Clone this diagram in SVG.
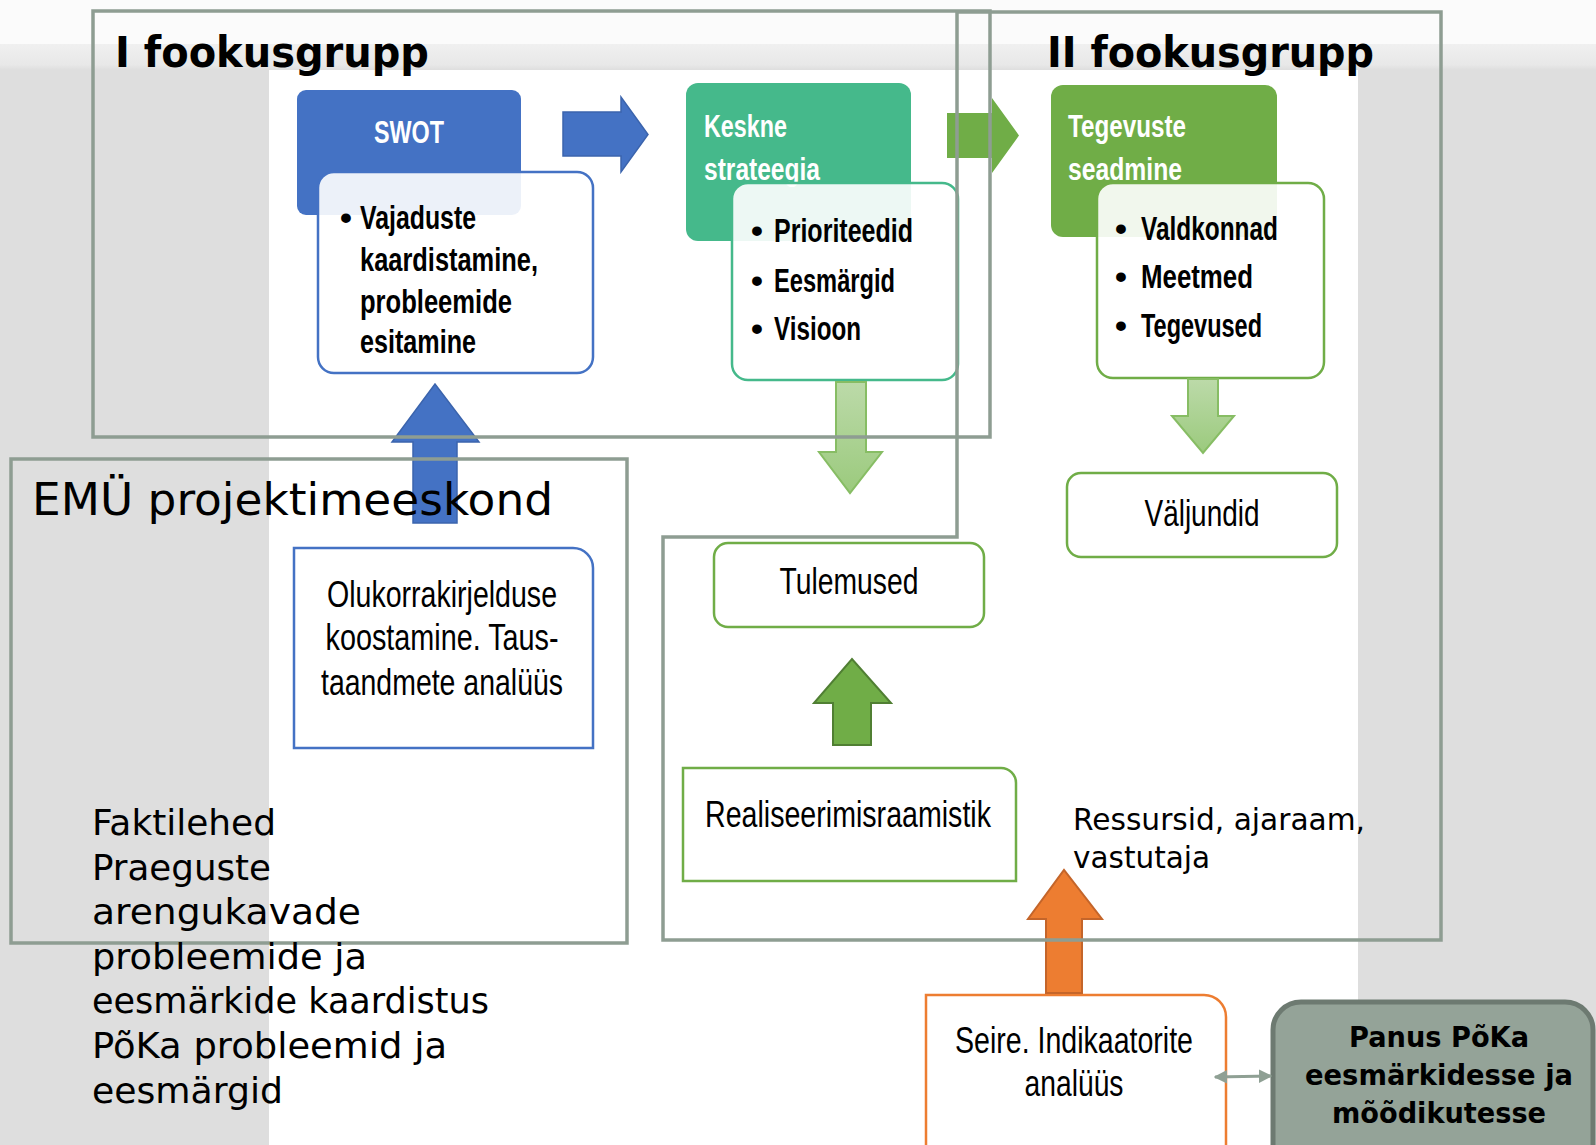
<svg xmlns="http://www.w3.org/2000/svg" width="1596" height="1145" viewBox="0 0 1596 1145">
<defs>
<linearGradient id="band" x1="0" y1="0" x2="0" y2="1">
<stop offset="0" stop-color="#f0f0f0"/><stop offset="0.8" stop-color="#e8e8e8"/><stop offset="1" stop-color="#dedede"/>
</linearGradient>
<linearGradient id="lg" x1="0" y1="0" x2="0" y2="1">
<stop offset="0" stop-color="#bcdaa9"/><stop offset="1" stop-color="#9bca7d"/>
</linearGradient>
<marker id="dh" viewBox="0 0 10 10" refX="9" refY="5" markerWidth="4.5" markerHeight="4.5" orient="auto-start-reverse">
<path d="M0,0 L10,5 L0,10 z" fill="#8fa094"/>
</marker>
<style>
.frame{fill:none;stroke:#8e9d92;stroke-width:3.5}
.cal{font-family:"Liberation Sans",Arial,sans-serif}
.got{font-family:"DejaVu Sans",sans-serif}
.hdr{fill:#ffffff;font-size:32px;font-weight:bold}
.bul{fill:#000000;font-size:34px;font-weight:bold}
.box{fill:#ffffff;stroke-width:2.5}
.ov{fill:#ffffff;fill-opacity:0.9;stroke-width:2.5}
.ar{font-size:36px;fill:#000000}
.lst{font-size:36px;fill:#000000}
.lg{fill:url(#lg);stroke:#87bd64;stroke-width:2}
</style>
</defs>

<g id="background">
<rect x="0" y="0" width="1596" height="1145" fill="#dedede"/>
<rect x="0" y="0" width="1596" height="44" fill="#fbfbfb"/>
<rect x="0" y="44" width="1596" height="26" fill="url(#band)"/>
<rect x="269" y="70" width="1089" height="1075" fill="#ffffff"/>
</g>

<g id="swot">
<rect x="297" y="90" width="224" height="125" rx="9" fill="#4472c4"/>
<text class="cal hdr" x="409" y="143" text-anchor="middle" textLength="70" lengthAdjust="spacingAndGlyphs" font-size="30">SWOT</text>
</g>
<g id="vajaduste">
<rect class="ov" x="318" y="172" width="275" height="201" rx="16" stroke="#4472c4"/>
<text class="cal bul" x="340" y="229" font-size="32">•</text>
<text class="cal bul" font-size="32" x="360" y="229" textLength="116" lengthAdjust="spacingAndGlyphs">Vajaduste</text>
<text class="cal bul" font-size="32" x="360" y="271" textLength="178" lengthAdjust="spacingAndGlyphs">kaardistamine,</text>
<text class="cal bul" font-size="32" x="360" y="313" textLength="152" lengthAdjust="spacingAndGlyphs">probleemide</text>
<text class="cal bul" font-size="32" x="360" y="353" textLength="116" lengthAdjust="spacingAndGlyphs">esitamine</text>
</g>

<g id="keskne">
<rect x="686" y="83" width="225" height="158" rx="12" fill="#45b98b"/>
<text class="cal hdr" x="704" y="137" textLength="83" lengthAdjust="spacingAndGlyphs">Keskne</text>
<text class="cal hdr" x="704" y="180" textLength="116" lengthAdjust="spacingAndGlyphs">strateegia</text>
</g>
<g id="prioriteedid">
<rect class="ov" x="732" y="183" width="226" height="197" rx="16" stroke="#45b98b"/>
<text class="cal bul" x="751" y="242">•</text>
<text class="cal bul" x="774" y="242" textLength="139" lengthAdjust="spacingAndGlyphs">Prioriteedid</text>
<text class="cal bul" x="751" y="292">•</text>
<text class="cal bul" x="774" y="292" textLength="121" lengthAdjust="spacingAndGlyphs">Eesmärgid</text>
<text class="cal bul" x="751" y="340">•</text>
<text class="cal bul" x="774" y="340" textLength="87" lengthAdjust="spacingAndGlyphs">Visioon</text>
</g>

<g id="tegevuste">
<rect x="1051" y="85" width="226" height="152" rx="12" fill="#70ad47"/>
<text class="cal hdr" x="1068" y="137" textLength="118" lengthAdjust="spacingAndGlyphs">Tegevuste</text>
<text class="cal hdr" x="1068" y="180" textLength="114" lengthAdjust="spacingAndGlyphs">seadmine</text>
</g>
<g id="valdkonnad">
<rect class="ov" x="1097" y="183" width="227" height="195" rx="16" stroke="#70ad47"/>
<text class="cal bul" x="1115" y="240">•</text>
<text class="cal bul" x="1141" y="240" textLength="137" lengthAdjust="spacingAndGlyphs">Valdkonnad</text>
<text class="cal bul" x="1115" y="288">•</text>
<text class="cal bul" x="1141" y="288" textLength="112" lengthAdjust="spacingAndGlyphs">Meetmed</text>
<text class="cal bul" x="1115" y="337">•</text>
<text class="cal bul" x="1141" y="337" textLength="121" lengthAdjust="spacingAndGlyphs">Tegevused</text>
</g>

<g id="valjundid">
<rect class="box" x="1067" y="473" width="270" height="84" rx="14" stroke="#70ad47"/>
<text class="cal ar" x="1202" y="526" text-anchor="middle" textLength="115" lengthAdjust="spacingAndGlyphs">Väljundid</text>
</g>

<g id="tulemused">
<rect class="box" x="714" y="543" width="270" height="84" rx="14" stroke="#70ad47"/>
<text class="cal ar" x="849" y="594" text-anchor="middle" textLength="139" lengthAdjust="spacingAndGlyphs">Tulemused</text>
</g>

<g id="realiseerimisraamistik">
<path class="box" d="M683,768 H1001 A15,15 0 0 1 1016,783 V881 H683 Z" stroke="#70ad47"/>
<text class="cal ar" x="848" y="827" text-anchor="middle" textLength="286" lengthAdjust="spacingAndGlyphs">Realiseerimisraamistik</text>
</g>

<g id="olukorra">
<path class="box" d="M294,548 H573 A20,20 0 0 1 593,568 V748 H294 Z" stroke="#4472c4"/>
<text class="cal ar" font-size="32" x="442" y="607" text-anchor="middle" textLength="230" lengthAdjust="spacingAndGlyphs">Olukorrakirjelduse</text>
<text class="cal ar" font-size="32" x="442" y="650" text-anchor="middle" textLength="233" lengthAdjust="spacingAndGlyphs">koostamine. Taus-</text>
<text class="cal ar" font-size="32" x="442" y="695" text-anchor="middle" textLength="242" lengthAdjust="spacingAndGlyphs">taandmete analüüs</text>
</g>

<g id="seire">
<path class="box" d="M926,1150 V995 H1204 A22,22 0 0 1 1226,1017 V1150" stroke="#ed7d31"/>
<text class="cal ar" font-size="35" x="1074" y="1053" text-anchor="middle" textLength="238" lengthAdjust="spacingAndGlyphs">Seire. Indikaatorite</text>
<text class="cal ar" font-size="35" x="1074" y="1096" text-anchor="middle" textLength="99" lengthAdjust="spacingAndGlyphs">analüüs</text>
</g>

<g id="panus">
<rect x="1273" y="1002" width="320" height="180" rx="28" fill="#94a398" stroke="#6d7a71" stroke-width="5"/>
<text class="got" font-size="28" font-weight="bold" fill="#000000" x="1439" y="1047" text-anchor="middle" textLength="180" lengthAdjust="spacingAndGlyphs">Panus PõKa</text>
<text class="got" font-size="28" font-weight="bold" fill="#000000" x="1439" y="1085" text-anchor="middle" textLength="268" lengthAdjust="spacingAndGlyphs">eesmärkidesse ja</text>
<text class="got" font-size="28" font-weight="bold" fill="#000000" x="1439" y="1123" text-anchor="middle" textLength="214" lengthAdjust="spacingAndGlyphs">mõõdikutesse</text>
</g>

<g id="ressursid">
<text class="got" font-size="29.5" fill="#000000" x="1073" y="830" textLength="292" lengthAdjust="spacingAndGlyphs">Ressursid, ajaraam,</text>
<text class="got" font-size="29.5" fill="#000000" x="1073" y="868">vastutaja</text>
</g>

<g id="connectors">
<polygon points="563,112 621,112 621,97 648,134.5 621,172 621,156 563,156" fill="#4472c4" stroke="#3b64ad" stroke-width="1.5"/>
<polygon points="947,113 992,113 992,98 1019,135.5 992,173 992,158 947,158" fill="#70ad47"/>
<polygon points="413,523 413,442 392,442 435,384 479,442 457,442 457,523" fill="#4472c4" stroke="#3b64ad" stroke-width="1.5"/>
<polygon class="lg" points="836,382 866,382 866,452 882,452 850,493 819,452 836,452"/>
<polygon class="lg" points="1188,379 1218,379 1218,416 1234,416 1203,453 1172,416 1188,416"/>
<polygon points="833,745 833,703 814,703 852,659 891,703 871,703 871,745" fill="#70ad47" stroke="#507f33" stroke-width="2"/>
<polygon points="1046,993 1046,919 1028,919 1064,870 1102,919 1082,919 1082,993" fill="#ed7d31" stroke="#c4652a" stroke-width="2"/>
<path d="M1215,1077 L1271,1076" stroke="#8fa094" stroke-width="3" fill="none" marker-start="url(#dh)" marker-end="url(#dh)"/>
</g>

<g id="fookusgrupp-1">
<rect class="frame" x="93" y="11" width="897" height="426"/>
<text class="got" font-size="43" font-weight="bold" fill="#000000" x="115" y="67" textLength="314" lengthAdjust="spacingAndGlyphs">I fookusgrupp</text>
</g>

<g id="fookusgrupp-2">
<path class="frame" d="M957,12 H1441 V940 H663 V537 H957 Z"/>
<text class="got" font-size="43" font-weight="bold" fill="#000000" x="1047" y="67" textLength="327" lengthAdjust="spacingAndGlyphs">II fookusgrupp</text>
</g>

<g id="emu-projektimeeskond">
<rect class="frame" x="11" y="459" width="616" height="484"/>
<text class="got" font-size="45" fill="#000000" x="32" y="515" textLength="521" lengthAdjust="spacingAndGlyphs">EMÜ projektimeeskond</text>
<text class="got lst" x="92" y="835" textLength="184" lengthAdjust="spacingAndGlyphs">Faktilehed</text>
<text class="got lst" x="92" y="879.6" textLength="179" lengthAdjust="spacingAndGlyphs">Praeguste</text>
<text class="got lst" x="92" y="924.2" textLength="269" lengthAdjust="spacingAndGlyphs">arengukavade</text>
<text class="got lst" x="92" y="968.8" textLength="275" lengthAdjust="spacingAndGlyphs">probleemide ja</text>
<text class="got lst" x="92" y="1013.4" textLength="397" lengthAdjust="spacingAndGlyphs">eesmärkide kaardistus</text>
<text class="got lst" x="92" y="1058" textLength="355" lengthAdjust="spacingAndGlyphs">PõKa probleemid ja</text>
<text class="got lst" x="92" y="1102.6" textLength="191" lengthAdjust="spacingAndGlyphs">eesmärgid</text>
</g>
</svg>
